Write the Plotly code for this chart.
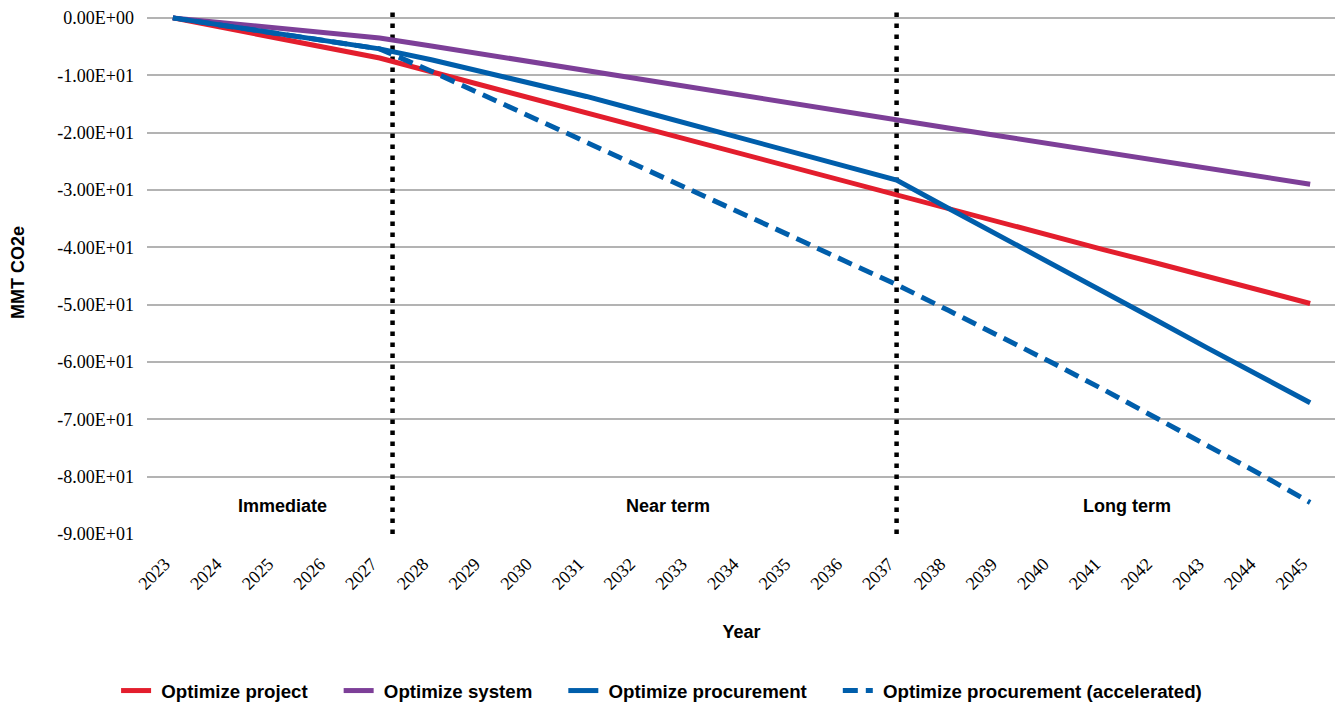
import plotly.graph_objects as go

years = list(range(2023, 2046))

optimize_project = [0.0, -1.75, -3.5, -5.25, -7.0, -9.4, -11.8, -14.2, -16.6, -19.0, -21.4,
                    -23.8, -26.2, -28.6, -31.0, -33.4, -35.7, -38.0, -40.4, -42.7, -45.1, -47.4, -49.8]
optimize_system = [0.0, -0.9, -1.75, -2.6, -3.5, -4.9, -6.35, -7.8, -9.2, -10.6, -12.0,
                   -13.5, -14.9, -16.3, -17.8, -19.2, -20.6, -22.0, -23.4, -24.8, -26.2, -27.6, -29.0]
optimize_procurement = [0.0, -1.3, -2.65, -4.0, -5.4, -7.3, -9.4, -11.6, -13.7, -16.1, -18.5,
                        -20.9, -23.4, -25.8, -28.3, -33.2, -38.0, -42.9, -47.8, -52.6, -57.5, -62.3, -67.1]
optimize_procurement_acc = [0.0, -1.3, -2.65, -4.0, -5.4, -9.3, -13.4, -17.6, -21.7, -25.8, -30.0,
                            -34.1, -38.2, -42.4, -46.5, -51.0, -55.5, -60.1, -64.8, -69.6, -74.5, -79.4, -84.5]

series_names = ["Optimize project", "Optimize system", "Optimize procurement",
                "Optimize procurement (accelerated)"]
series_colors = ["#E31E2D", "#7D3F98", "#005EAB", "#005EAB"]

y_ticks = [0, -10, -20, -30, -40, -50, -60, -70, -80, -90]
y_ticktext = ["0.00E+00", "-1.00E+01", "-2.00E+01", "-3.00E+01", "-4.00E+01",
              "-5.00E+01", "-6.00E+01", "-7.00E+01", "-8.00E+01", "-9.00E+01"]

phase_bounds = [2027.25, 2037]
phase_labels = ["Immediate", "Near term", "Long term"]
phase_label_x = [2025.13, 2032.58, 2041.46]
phase_label_y = -85.1

SERIF = "Liberation Serif, Times New Roman, DejaVu Serif, serif"
SANS = "Liberation Sans, Arial, sans-serif"
NB = "\u00a0"

fig = go.Figure()

for xb in phase_bounds:
    fig.add_trace(go.Scatter(x=[xb, xb], y=[-90, 1.2], mode="lines",
                             line=dict(color="black", width=4.5, dash="4.5px,6.5px"),
                             showlegend=False, hoverinfo="skip"))

data = [optimize_project, optimize_system, optimize_procurement, optimize_procurement_acc]
for i, (name, vals) in enumerate(zip(series_names, data)):
    fig.add_trace(go.Scatter(
        x=years, y=vals, mode="lines", name=NB + name + NB * 5,
        line=dict(color=series_colors[i], width=5,
                  dash="15px,8px" if i == 3 else "solid"),
    ))

for lx, lt in zip(phase_label_x, phase_labels):
    fig.add_annotation(x=lx, y=phase_label_y, text=lt, showarrow=False,
                       font=dict(family=SANS, size=18, color="black", weight="bold"))

fig.update_layout(
    width=1335, height=694,
    margin=dict(l=139, r=7, t=3, b=168, autoexpand=False),
    paper_bgcolor="white", plot_bgcolor="white",
    showlegend=True,
    legend=dict(orientation="h", x=-0.026, xanchor="left", y=-0.30, yanchor="middle",
                font=dict(family=SANS, size=18.7, color="black", weight="bold"),
                traceorder="normal"),
    xaxis=dict(range=[2022.5, 2045.5], tickvals=years, ticktext=[str(y) for y in years],
               tickangle=-45, showgrid=False, zeroline=False, showline=False, automargin=False,
               ticklabelstandoff=15, ticklabelshift=-8,
               tickfont=dict(family=SERIF, size=18, color="black"),
               title=dict(text="Year", standoff=32,
                          font=dict(family=SANS, size=18, color="black", weight="bold"))),
    yaxis=dict(range=[-90, 1.2], tickvals=y_ticks, ticktext=y_ticktext, automargin=False,
               showgrid=True, gridcolor="#B3B3B3", gridwidth=1.5, zeroline=False, showline=False,
               ticks="", ticklabelstandoff=12,
               tickfont=dict(family=SERIF, size=18, color="black"),
               title=dict(text="MMT CO2e", standoff=40,
                          font=dict(family=SANS, size=18, color="black", weight="bold"))),
)

fig.write_html("out.html")
